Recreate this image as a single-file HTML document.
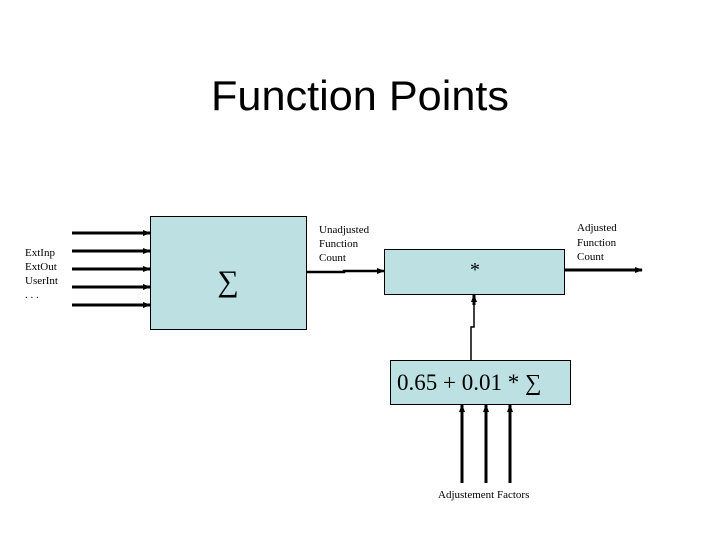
<!DOCTYPE html>
<html><head><style>html,body{margin:0;padding:0;background:#fff}</style></head>
<body>
<svg width="720" height="540" xmlns="http://www.w3.org/2000/svg">
<defs><marker id="a" markerWidth="8" markerHeight="8" refX="7" refY="4" orient="auto" markerUnits="userSpaceOnUse"><path d="M0,1 L8,4 L0,7 Z" fill="#000"/></marker></defs>
<rect width="720" height="540" fill="#fff"/>
<text x="360" y="110" font-family="Liberation Sans, sans-serif" font-size="42" text-anchor="middle" textLength="298" lengthAdjust="spacingAndGlyphs">Function Points</text>
<g stroke="#000" stroke-width="3" marker-end="url(#a)">
<line x1="72" y1="233" x2="150" y2="233"/>
<line x1="72" y1="251" x2="150" y2="251"/>
<line x1="72" y1="269" x2="150" y2="269"/>
<line x1="72" y1="287" x2="150" y2="287"/>
<line x1="72" y1="305" x2="150" y2="305"/>
</g>
<rect x="150.5" y="216.5" width="156" height="113" fill="#bde0e2" stroke="#000" stroke-width="1"/>
<text x="228" y="291" font-family="Liberation Serif, serif" font-size="30" text-anchor="middle">∑</text>
<g font-family="Liberation Serif, serif" font-size="11">
<text x="25" y="256">ExtInp</text><text x="25" y="270">ExtOut</text><text x="25" y="284">UserInt</text><text x="25" y="298">. . .</text>
<text x="319" y="233">Unadjusted</text><text x="319" y="247">Function</text><text x="319" y="261">Count</text>
<text x="577" y="231">Adjusted</text><text x="577" y="246">Function</text><text x="577" y="260">Count</text>
<text x="438" y="498">Adjustement Factors</text>
</g>
<polyline points="306,272 344,272 344,271 384,271" fill="none" stroke="#000" stroke-width="2.5" marker-end="url(#a)"/>
<rect x="384.5" y="249.5" width="180" height="45" fill="#bde0e2" stroke="#000" stroke-width="1"/>
<text x="475" y="276" font-family="Liberation Serif, serif" font-size="20" text-anchor="middle">*</text>
<line x1="565" y1="270" x2="642" y2="270" stroke="#000" stroke-width="3" marker-end="url(#a)"/>
<polyline points="471,360 471,327 474,327 474,295" fill="none" stroke="#000" stroke-width="1.5"/>
<line x1="474" y1="305" x2="474" y2="295" stroke="#000" stroke-width="3" marker-end="url(#a)"/>
<rect x="390.5" y="360.5" width="180" height="44" fill="#bde0e2" stroke="#000" stroke-width="1"/>
<text x="397" y="390" font-family="Liberation Serif, serif" font-size="23">0.65 + 0.01 * ∑</text>
<g stroke="#000" stroke-width="3" marker-end="url(#a)">
<line x1="462" y1="483" x2="462" y2="405"/>
<line x1="486" y1="483" x2="486" y2="405"/>
<line x1="510" y1="483" x2="510" y2="405"/>
</g>
</svg>
</body></html>
